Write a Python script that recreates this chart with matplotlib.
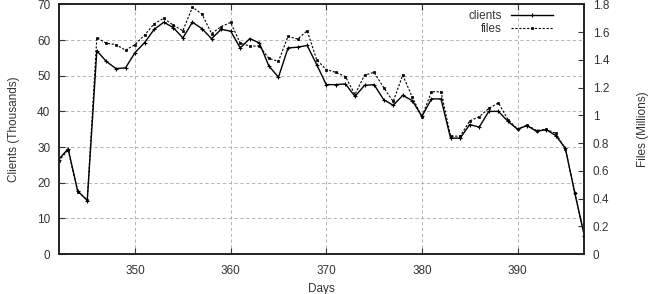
import numpy as np
import matplotlib.pyplot as plt

# Daily counts (clients in thousands, files in millions)
days = np.arange(342, 398)

clients = [26.5, 29.5, 17.7, 15.0, 57.0, 54.0, 52.0, 52.2, 56.5, 59.3,
           63.0, 65.0, 63.5, 60.6, 65.0, 63.2, 60.4, 63.0, 62.5, 57.8,
           60.4, 59.2, 52.7, 49.6, 57.8, 58.0, 58.5, 53.1, 47.5, 47.5,
           47.7, 44.2, 47.3, 47.5, 43.3, 41.7, 44.5, 43.0, 38.6, 43.5,
           43.5, 32.5, 32.5, 36.3, 35.6, 40.0, 40.0, 37.2, 35.0, 36.0,
           34.4, 34.9, 33.2, 29.7, 17.0, 5.0]

files = [0.67, 0.75, 0.45, 0.39, 1.56, 1.52, 1.51, 1.47, 1.51, 1.58,
         1.66, 1.70, 1.65, 1.61, 1.78, 1.73, 1.59, 1.64, 1.67, 1.52,
         1.50, 1.50, 1.41, 1.39, 1.57, 1.55, 1.61, 1.40, 1.33, 1.31,
         1.28, 1.15, 1.29, 1.31, 1.20, 1.10, 1.29, 1.13, 0.99, 1.17,
         1.17, 0.85, 0.85, 0.96, 0.99, 1.05, 1.09, 0.97, 0.90, 0.93,
         0.89, 0.90, 0.87, 0.76, 0.44, 0.13]

plt.rcParams['font.family'] = ['Liberation Sans', 'DejaVu Sans']
plt.rcParams['font.size'] = 8.5
txt = '#333333'

fig = plt.figure(figsize=(6.53, 2.94), dpi=100)
ax = fig.add_axes([0.0897, 0.136, 0.8053, 0.849])
ax2 = ax.twinx()

l1, = ax.plot(days, clients, '-', color='black', lw=1.0,
              marker='+', ms=3, mew=0.8, label='clients')
l2, = ax2.plot(days, files, '--', color='black', lw=0.8, dashes=(2, 1.5),
               marker='s', ms=2, mew=0.5, label='files')

ax.set_xlim(342, 397)
ax.set_ylim(0, 70)
ax2.set_ylim(0, 1.8)
ax.set_xticks([350, 360, 370, 380, 390])
ax.set_yticks(np.arange(0, 71, 10))
ax2.set_yticks(np.arange(0, 1.81, 0.2))
ax2.set_yticklabels(['0', '0.2', '0.4', '0.6', '0.8', '1', '1.2', '1.4', '1.6', '1.8'])

ax.grid(True, color='#aaaaaa', linestyle=(0, (4, 3)), lw=0.6)
ax.tick_params(direction='in', top=True, length=4, colors=txt, pad=6)
ax.tick_params(axis='x', pad=8)
ax2.tick_params(direction='in', length=4, colors=txt, pad=6)
for a in (ax, ax2):
    for s in a.spines.values():
        s.set_linewidth(1.2)
        s.set_color('#222222')

ax.set_xlabel('Days', color=txt, labelpad=4)
ax.set_ylabel('Clients (Thousands)', color=txt, labelpad=12)
ax2.set_ylabel('Files (Millions)', color=txt, labelpad=20)

leg = ax.legend(handles=[l1, l2], loc='upper right', bbox_to_anchor=(0.96, 1.02),
                frameon=False, markerfirst=False, handlelength=3.5,
                labelspacing=0.1, handletextpad=0.8, fontsize=8.5)
for t in leg.get_texts():
    t.set_color(txt)

fig.savefig('out.png', dpi=100)
